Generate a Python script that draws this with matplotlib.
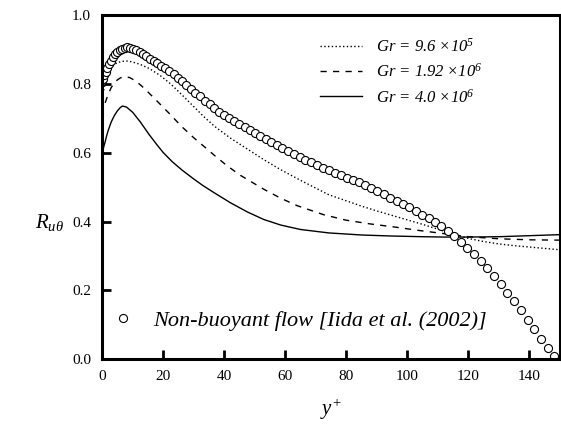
import matplotlib
matplotlib.use("Agg")
import matplotlib.pyplot as plt
from matplotlib.ticker import FormatStrFormatter

plt.rcParams['font.family'] = ['Liberation Serif', 'DejaVu Serif']
plt.rcParams['mathtext.fontset'] = 'custom'
plt.rcParams['mathtext.rm'] = 'Liberation Serif:italic'
plt.rcParams['mathtext.it'] = 'Liberation Serif:italic'

# === Donnees ===
# Ecoulement non flottant [Iida et al. (2002)]
yp_ref = [0.0, 0.3, 0.7, 1.2, 1.7, 2.3, 2.9, 3.6, 4.3, 5.0, 5.8, 6.6, 7.4, 8.3, 9.2,
          10.2, 11.2, 12.3, 13.4, 14.5, 15.7, 16.9, 18.1, 19.4, 20.7, 22.0, 23.4,
          24.8, 26.2, 27.6, 29.1, 30.6, 32.1, 33.6, 35.2, 36.8, 38.4, 40.0, 41.6,
          43.3, 45.0, 46.7, 48.4, 50.1, 51.9, 53.7, 55.5, 57.3, 59.1, 60.9, 62.8,
          64.7, 66.6, 68.5, 70.4, 72.3, 74.2, 76.2, 78.2, 80.2, 82.2, 84.2, 86.2,
          88.2, 90.2, 92.3, 94.4, 96.5, 98.6, 100.7, 102.8, 104.9, 107.0, 109.1,
          111.2, 113.3, 115.4, 117.5, 119.6, 121.8, 124.0, 126.2, 128.4, 130.6,
          132.8, 135.0, 137.2, 139.4, 141.6, 143.8, 146.0, 148.2]
r_ref = [0.810, 0.816, 0.825, 0.836, 0.847, 0.858, 0.868, 0.878, 0.886, 0.893, 0.899,
         0.903, 0.906, 0.907, 0.906, 0.903, 0.899, 0.894, 0.888, 0.881, 0.873, 0.866,
         0.860, 0.853, 0.846, 0.838, 0.828, 0.818, 0.808, 0.797, 0.786, 0.775, 0.764,
         0.752, 0.741, 0.729, 0.719, 0.710, 0.702, 0.693, 0.684, 0.676, 0.667, 0.659,
         0.650, 0.641, 0.632, 0.623, 0.614, 0.606, 0.597, 0.588, 0.580, 0.572, 0.564,
         0.556, 0.549, 0.542, 0.535, 0.528, 0.521, 0.514, 0.506, 0.498, 0.489, 0.480,
         0.470, 0.460, 0.451, 0.441, 0.431, 0.420, 0.409, 0.398, 0.386, 0.372, 0.357,
         0.341, 0.324, 0.305, 0.285, 0.265, 0.242, 0.218, 0.193, 0.168, 0.142, 0.115,
         0.087, 0.058, 0.031, 0.009]

# Gr = 9.6e5 (pointille)
yp_1 = [0, 0.5, 1, 1.5, 2, 3, 4, 5, 6.5, 8.4, 10, 12.5, 15.5, 19, 22.5, 26, 29.6,
        33, 36.7, 42, 47.6, 53, 58.5, 65, 74.3, 85, 90, 95, 100, 105, 110, 115,
        120, 125, 130, 135, 140, 145, 150]
r_1 = [0.76, 0.782, 0.80, 0.817, 0.83, 0.848, 0.857, 0.862, 0.866, 0.867, 0.864,
       0.857, 0.845, 0.825, 0.800, 0.770, 0.738, 0.708, 0.678, 0.643, 0.611, 0.580,
       0.551, 0.520, 0.478, 0.445, 0.431, 0.418, 0.405, 0.392, 0.378, 0.364, 0.351,
       0.342, 0.335, 0.330, 0.326, 0.322, 0.318]

# Gr = 1.92e6 (tirets)
yp_2 = [0, 0.5, 1, 1.5, 2, 3, 4, 5, 6, 7.3, 9, 11, 13, 14.9, 18.5, 22.5, 26, 30,
        34, 37, 41, 45.4, 53, 58.5, 64, 72.6, 80, 88, 96, 104, 112, 120, 130, 140,
        150]
r_2 = [0.71, 0.73, 0.745, 0.758, 0.77, 0.79, 0.803, 0.812, 0.818, 0.821, 0.819,
       0.809, 0.794, 0.778, 0.746, 0.710, 0.677, 0.644, 0.614, 0.591, 0.562, 0.534,
       0.494, 0.468, 0.446, 0.420, 0.404, 0.393, 0.384, 0.374, 0.365, 0.356, 0.350,
       0.347, 0.346]

# Gr = 4.0e6 (trait plein)
yp_3 = [0, 0.5, 1, 1.5, 2, 3, 4, 5, 6, 6.7, 8, 10, 12.5, 15.5, 18, 20, 23, 26.3,
        30, 33, 36.7, 42, 47.6, 53, 58.5, 65, 74.3, 85, 95, 105, 112, 120, 130,
        140, 150]
r_3 = [0.60, 0.616, 0.632, 0.650, 0.665, 0.690, 0.708, 0.722, 0.732, 0.736, 0.733,
       0.718, 0.690, 0.652, 0.623, 0.601, 0.574, 0.549, 0.524, 0.505, 0.484, 0.455,
       0.428, 0.406, 0.390, 0.377, 0.367, 0.361, 0.358, 0.356, 0.355, 0.355, 0.356,
       0.359, 0.362]

labels = ['Gr = 9.6 \u00d710$^{5}$',
          'Gr = 1.92 \u00d710$^{6}$',
          'Gr = 4.0 \u00d710$^{6}$']

fig = plt.figure(figsize=(5.61, 4.24), dpi=100)
ax = fig.add_axes([0.182, 0.153, 0.816, 0.811])

l1, = ax.plot(yp_1, r_1, color='black', lw=1.0, linestyle=(0, (1, 1.7)))
l2, = ax.plot(yp_2, r_2, color='black', lw=1.0, linestyle=(0, (4.5, 4.5)))
l3, = ax.plot(yp_3, r_3, color='black', lw=1.0, linestyle='-')
pts, = ax.plot(yp_ref, r_ref, linestyle='none', marker='o', markersize=5.8,
               markerfacecolor='white', markeredgecolor='black', markeredgewidth=0.8)

ax.set_xlim(0, 150)
ax.set_ylim(0, 1.0)
ax.set_xticks(range(0, 141, 20))
ax.set_yticks([0.0, 0.2, 0.4, 0.6, 0.8, 1.0])
ax.yaxis.set_major_formatter(FormatStrFormatter('%.1f'))

for s in ax.spines.values():
    s.set_linewidth(2.2)
ax.tick_params(direction='in', length=6.5, width=2.0, labelsize=11, pad=8,
               top=False, right=False)

ax.set_xlabel(r'$y^{+}$', fontsize=15, labelpad=10)
fig.text(0.062, 0.475, r'$R_{u\theta}$', fontsize=15, ha='left', va='center')

leg1 = ax.legend([l1, l2, l3], labels, loc='upper left',
                 bbox_to_anchor=(0.476, 0.935), frameon=False,
                 handlelength=2.5, handletextpad=0.87, labelspacing=0.45,
                 borderpad=0, borderaxespad=0,
                 prop={'family': 'Liberation Serif', 'style': 'italic', 'size': 12})
ax.add_artist(leg1)
ax.legend([pts], ['Non-buoyant flow [Iida et al. (2002)]'], loc='center left',
          bbox_to_anchor=(0.022, 0.113), frameon=False, borderpad=0,
          borderaxespad=0, handlelength=1.0, handletextpad=0.86,
          prop={'family': 'Liberation Serif', 'style': 'italic', 'size': 16})

fig.savefig('out.png', dpi=100)
